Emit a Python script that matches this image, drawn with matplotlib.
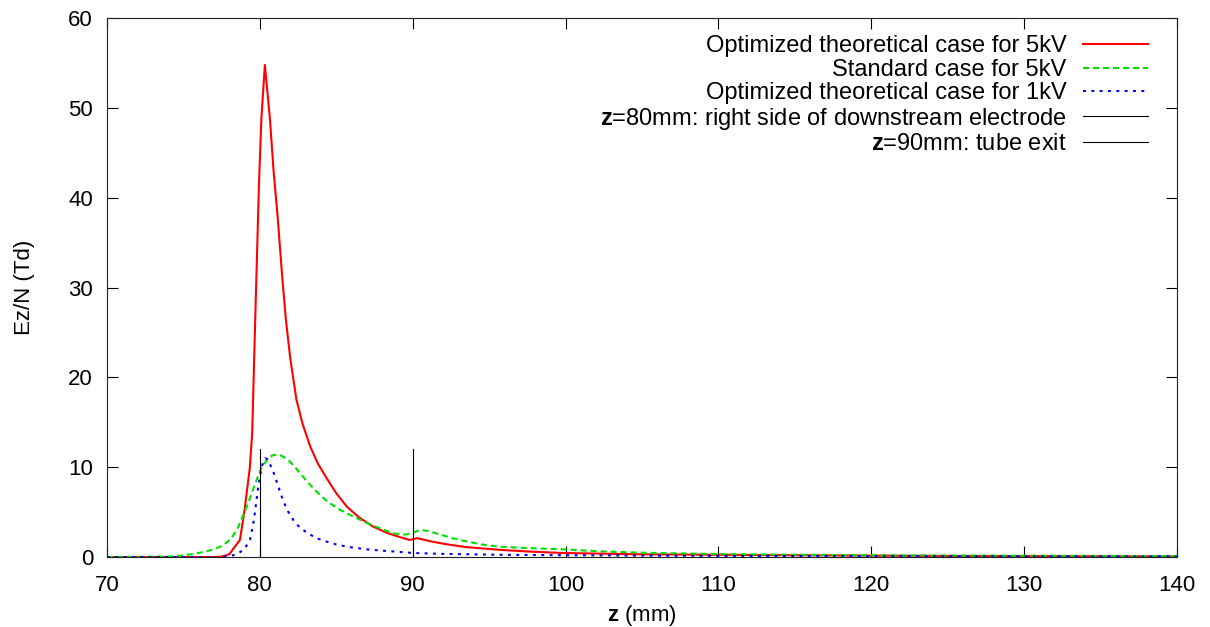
import numpy as np
import matplotlib
matplotlib.use("Agg")
import matplotlib.pyplot as plt

plt.rcParams["font.family"] = ["Liberation Sans", "DejaVu Sans"]
plt.rcParams["mathtext.fontset"] = "custom"
plt.rcParams["mathtext.rm"] = "Liberation Sans"
plt.rcParams["mathtext.bf"] = "Liberation Sans:bold"

# Optimized theoretical case, 5 kV
z_opt5 = [70, 76, 77, 77.5, 78.0, 78.3, 78.7, 79.0, 79.35, 79.5, 79.7, 79.94, 80.1,
          80.33, 80.66, 80.9, 81.18, 81.45, 81.7, 82.0, 82.4, 82.8, 83.3, 83.8, 84.4,
          85.0, 85.7, 86.5, 87.4, 88.3, 89.2, 89.8, 90.3, 91.3, 92.3, 93.5, 95.7,
          97.5, 99.8, 105, 115, 125, 140]
e_opt5 = [0, 0, 0, 0.05, 0.3, 1.0, 1.9, 5.2, 10.0, 13.8, 26.5, 41.3, 48.8,
          54.8, 48.8, 43.0, 37.6, 31.5, 26.5, 22.0, 17.5, 14.8, 12.3, 10.4, 8.7,
          7.1, 5.6, 4.4, 3.4, 2.7, 2.2, 1.9, 2.1, 1.7, 1.4, 1.1, 0.8,
          0.62, 0.45, 0.3, 0.2, 0.12, 0.08]

# Standard case, 5 kV
z_std5 = [70, 74, 74.5, 75.5, 76.3, 77.0, 77.6, 78.1, 78.5, 78.9, 79.3, 79.7, 80.1,
          80.5, 80.8, 81.1, 81.4, 81.8, 82.2, 82.6, 83.1, 83.7, 84.4, 85.2, 86.0,
          87.0, 87.7, 88.3, 88.9, 89.4, 89.7, 90.0, 90.3, 90.6, 91.0, 91.8, 92.6,
          93.5, 94.5, 95.7, 97.5, 99.8, 102, 105, 110, 115, 120, 130, 140]
e_std5 = [0, 0.05, 0.1, 0.3, 0.55, 0.85, 1.3, 2.0, 3.0, 4.6, 6.3, 8.2, 9.9,
          10.9, 11.3, 11.4, 11.3, 10.9, 10.2, 9.4, 8.4, 7.3, 6.2, 5.3, 4.6,
          3.8, 3.3, 2.9, 2.6, 2.5, 2.55, 2.7, 2.9, 3.0, 2.9, 2.5, 2.1,
          1.75, 1.4, 1.15, 1.0, 0.86, 0.65, 0.48, 0.33, 0.25, 0.2, 0.15, 0.1]

# Optimized theoretical case, 1 kV
z_opt1 = [70, 76.5, 77, 78, 78.5, 79.0, 79.35, 79.55, 79.7, 79.85, 80.0, 80.15, 80.35,
          80.5, 80.7, 80.9, 81.1, 81.3, 81.5, 81.8, 82.2, 82.6, 83.1, 83.7, 84.4,
          85.1, 85.9, 87.0, 88.1, 90.0, 92.0, 95.7, 100, 110, 120, 140]
e_opt1 = [0, 0, -0.05, 0.1, 0.3, 0.9, 1.9, 3.5, 5.2, 7.3, 8.9, 10.2, 11.0,
          10.9, 10.2, 9.4, 8.4, 7.4, 6.4, 5.2, 4.1, 3.3, 2.7, 2.1, 1.7,
          1.35, 1.1, 0.85, 0.7, 0.45, 0.35, 0.25, 0.2, 0.12, 0.08, 0.05]

# electrode edge and tube exit
z_marks = [80, 90]
mark_height = 12
mark_labels = [r"$\mathbf{z}$=80mm: right side of downstream electrode",
               r"$\mathbf{z}$=90mm: tube exit"]

fig = plt.figure(figsize=(12.1, 6.27), dpi=100)
ax = fig.add_axes([0.0884, 0.1116, 0.8843, 0.8594])

ax.plot(z_opt5, e_opt5, color="#ff0000", lw=1.5,
        label="Optimized theoretical case for 5kV")
ax.plot(z_std5, e_std5, color="#00e000", lw=1.5, dashes=(2.9, 1.9),
        label="Standard case for 5kV")
ax.plot(z_opt1, e_opt1, color="#0000ff", lw=1.5, dashes=(1.4, 2.6),
        label="Optimized theoretical case for 1kV")
for zm, lab in zip(z_marks, mark_labels):
    ax.plot([zm, zm], [0, mark_height], color="black", lw=0.8, label=lab)

ax.set_xlim(70, 140)
ax.set_ylim(0, 60)
ax.set_xticks(np.arange(70, 141, 10))
ax.set_yticks(np.arange(0, 61, 10))
ax.tick_params(direction="in", top=True, right=True, length=8, width=0.8,
               labelsize=16)
ax.tick_params(axis="x", pad=13)
ax.tick_params(axis="y", pad=10)
for s in ax.spines.values():
    s.set_linewidth(0.8)
    s.set_color("#222222")

ax.set_xlabel(r"$\mathbf{z}$ (mm)", fontsize=16, labelpad=5)
ax.set_ylabel("Ez/N (Td)", fontsize=16, labelpad=24)

ax.legend(loc="upper right", bbox_to_anchor=(0.9729, 0.968), frameon=False,
          markerfirst=False, fontsize=17, handlelength=2.75, handletextpad=0.7,
          labelspacing=0.06, borderpad=0, borderaxespad=0)

fig.savefig("out.png", dpi=100)
